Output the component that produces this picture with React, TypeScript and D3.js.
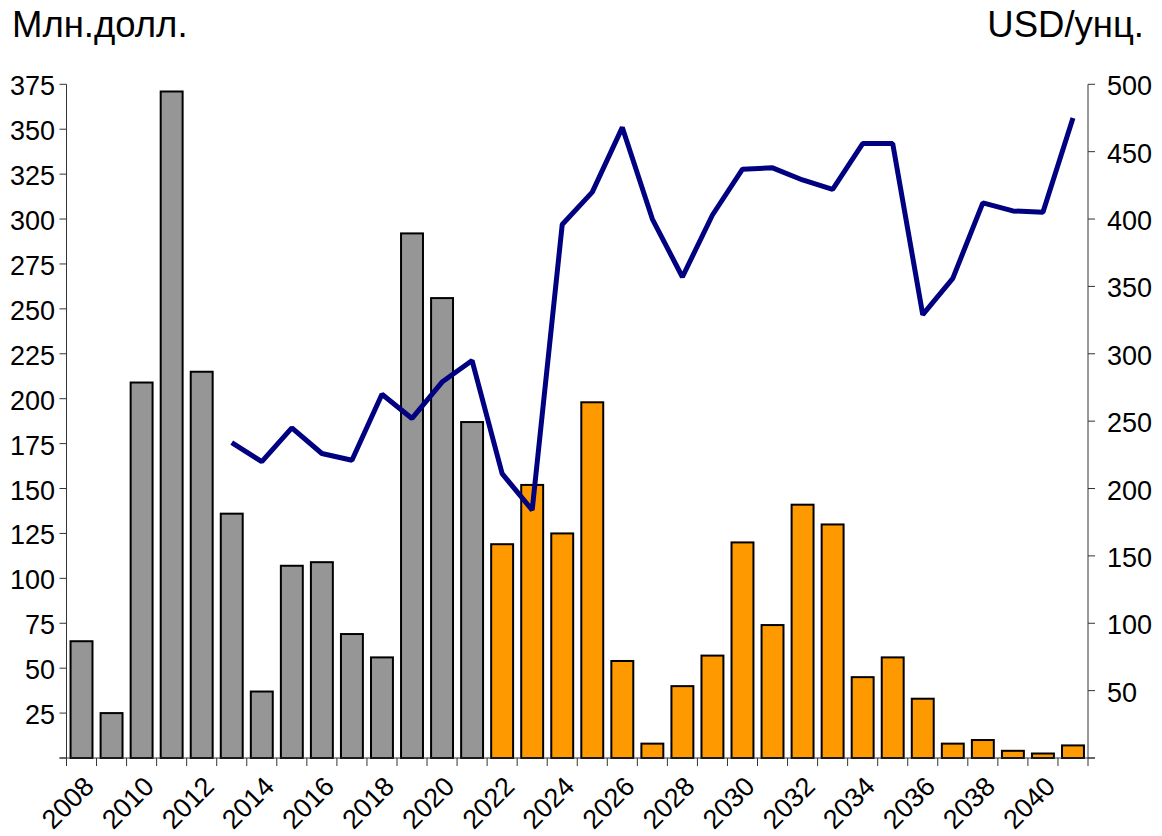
import React from 'react';
import { scaleBand, scaleLinear, line } from 'd3';

// years on the x axis, one bar each
const years = [
  2008, 2009, 2010, 2011, 2012, 2013, 2014, 2015, 2016, 2017, 2018, 2019, 2020, 2021,
  2022, 2023, 2024, 2025, 2026, 2027, 2028, 2029, 2030, 2031, 2032, 2033, 2034, 2035,
  2036, 2037, 2038, 2039, 2040, 2041,
];

// Млн.долл. (left axis)
const bars = [
  65, 25, 209, 371, 215, 136, 37, 107, 109, 69, 56, 292, 256, 187,
  119, 152, 125, 198, 54, 8, 40, 57, 120, 74, 141, 130, 45, 56,
  33, 8, 10, 4, 2.5, 7,
];

// first forecast year (orange bars)
const forecastFrom = 2022;

// USD/унц. (right axis), starts at 2013
const priceYears = [
  2013, 2014, 2015, 2016, 2017, 2018, 2019, 2020, 2021, 2022, 2023, 2024, 2025, 2026,
  2027, 2028, 2029, 2030, 2031, 2032, 2033, 2034, 2035, 2036, 2037, 2038, 2039, 2040, 2041,
];
const price = [
  234, 220, 245, 226, 221, 270, 252, 279, 295, 211, 184, 396, 420, 468,
  400, 357, 403, 437, 438, 429, 422, 456, 456, 329, 356, 412, 406, 405, 475,
];

const leftTicks = [25, 50, 75, 100, 125, 150, 175, 200, 225, 250, 275, 300, 325, 350, 375];
const rightTicks = [50, 100, 150, 200, 250, 300, 350, 400, 450, 500];
const labelYears = years.filter((y) => y % 2 === 0);

const W = 1162;
const H = 836;
const left = 66.5;
const right = 1088;
const top = 84.3;
const bottom = 758;
const font = '"Liberation Sans", Arial, sans-serif';

export default function App() {
  const x = scaleBand<number>()
    .domain(years)
    .range([left, right])
    .paddingInner(0.27)
    .paddingOuter(0.135);
  const step = x.step();
  const yL = scaleLinear().domain([0, 375]).range([bottom, top]);
  const yR = scaleLinear().domain([0, 500]).range([bottom, top]);

  const path = line<number>()
    .x((_, i) => (x(priceYears[i]) as number) + x.bandwidth() / 2)
    .y((d) => yR(d))(price);

  return (
    <svg
      width={W}
      height={H}
      style={{ position: 'absolute', left: 0, top: 0, background: '#fff' }}
      fontFamily={font}
    >
      <text x={12} y={37} fontSize={36.5}>Млн.долл.</text>
      <text x={1144} y={37} fontSize={36.5} textAnchor="end">USD/унц.</text>

      {years.map((yr, i) => (
        <rect
          key={yr}
          x={x(yr)}
          y={yL(bars[i])}
          width={x.bandwidth()}
          height={bottom - yL(bars[i])}
          fill={yr >= forecastFrom ? '#FF9900' : '#969696'}
          stroke="#000"
          strokeWidth={2}
        />
      ))}

      {/* left axis */}
      <line x1={left} x2={left} y1={top} y2={bottom} stroke="#333" />
      {[0, ...leftTicks].map((t) => (
        <line key={t} x1={left - 7} x2={left} y1={yL(t)} y2={yL(t)} stroke="#333" />
      ))}
      {leftTicks.map((t) => (
        <text key={t} x={55} y={yL(t) + 11} fontSize={27} textAnchor="end">{t}</text>
      ))}

      {/* right axis */}
      <line x1={right} x2={right} y1={top} y2={bottom} stroke="#333" />
      {[0, ...rightTicks].map((t) => (
        <line key={t} x1={right} x2={right + 7} y1={yR(t)} y2={yR(t)} stroke="#333" />
      ))}
      {rightTicks.map((t) => (
        <text key={t} x={1107} y={yR(t) + 11} fontSize={27}>{t}</text>
      ))}

      {/* x axis */}
      <line x1={left - 7} x2={right + 7} y1={bottom} y2={bottom} stroke="#333" />
      {years.concat([0]).map((yr, i) => (
        <line
          key={i}
          x1={left + i * step}
          x2={left + i * step}
          y1={bottom}
          y2={bottom + 8}
          stroke="#333"
        />
      ))}
      {labelYears.map((yr) => {
        const cx = (x(yr) as number) + x.bandwidth() / 2;
        return (
          <text
            key={yr}
            transform={`translate(${cx + 14},788) rotate(-45)`}
            fontSize={27}
            textAnchor="end"
          >
            {yr}
          </text>
        );
      })}

      <path d={path || ''} fill="none" stroke="#000080" strokeWidth={5} strokeLinejoin="bevel" />
    </svg>
  );
}
